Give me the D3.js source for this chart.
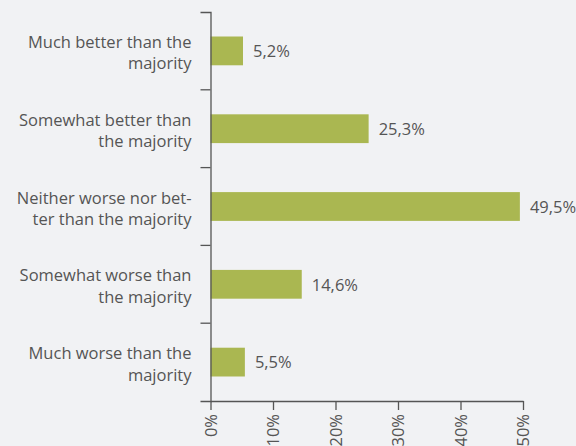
<!DOCTYPE html>
<html>
<head>
<meta charset="utf-8">
<script src="https://cdn.jsdelivr.net/npm/d3@7"></script>
<style>
  body { margin: 0; background: #f1f2f4; }
  svg { display: block; }
  text { font-family: "Open Sans", sans-serif; fill: #555; }
</style>
</head>
<body>
<div id="chart"></div>
<script>
// Données
const categories = [
    ["Much better than the", "majority"],
    ["Somewhat better than", "the majority"],
    ["Neither worse nor bet-", "ter than the majority"],
    ["Somewhat worse than", "the majority"],
    ["Much worse than the", "majority"]
];
const values = [5.2, 25.3, 49.5, 14.6, 5.5];
const valueLabels = ["5,2%", "25,3%", "49,5%", "14,6%", "5,5%"];
const xTicks = [0, 10, 20, 30, 40, 50];
const xTickLabels = ["0%", "10%", "20%", "30%", "40%", "50%"];

const width = 576;
const height = 446;
const margin = { top: 12, right: 53, bottom: 45, left: 210.5 };

const svg = d3.select("#chart")
    .append("svg")
    .attr("width", width)
    .attr("height", height);

svg.append("rect")
    .attr("width", width)
    .attr("height", height)
    .attr("fill", "#f1f2f4");

// Échelles
const idx = d3.range(categories.length);

const x = d3.scaleLinear()
    .domain([0, 50])
    .range([margin.left, width - margin.right]);

const y = d3.scaleBand()
    .domain(idx)
    .range([margin.top, height - margin.bottom])
    .padding(0);

const barH = y.bandwidth() * 0.37;
const fontSize = 16.5;

// Barres
svg.append("g")
    .selectAll("rect")
    .data(idx)
    .join("rect")
    .attr("x", x(0))
    .attr("y", i => y(i) + (y.bandwidth() - barH) / 2)
    .attr("width", i => x(values[i]) - x(0))
    .attr("height", barH)
    .attr("fill", "#aab751");

// Valeurs
svg.append("g")
    .selectAll("text")
    .data(idx)
    .join("text")
    .attr("x", i => x(values[i]) + 10)
    .attr("y", i => y(i) + y.bandwidth() / 2)
    .attr("dy", "0.38em")
    .attr("font-size", fontSize)
    .text(i => valueLabels[i]);

// Axe Y
const yAxis = svg.append("g")
    .attr("transform", `translate(${x(0)},0)`)
    .call(d3.axisLeft(y).tickSize(0).tickSizeOuter(10).tickFormat(""));

yAxis.select(".domain").attr("stroke", "#555").attr("stroke-width", 1.3);

yAxis.selectAll(".boundary")
    .data(idx.slice(1))
    .join("line")
    .attr("class", "boundary")
    .attr("x1", -10)
    .attr("x2", 0)
    .attr("y1", i => y(i))
    .attr("y2", i => y(i))
    .attr("stroke", "#555")
    .attr("stroke-width", 1.3);

// Libellés des catégories
const labels = svg.append("g")
    .selectAll("text")
    .data(idx)
    .join("text")
    .attr("text-anchor", "end")
    .attr("font-size", fontSize)
    .attr("y", i => y(i) + y.bandwidth() / 2);

labels.selectAll("tspan")
    .data(i => categories[i].map((t, k) => ({ t, k })))
    .join("tspan")
    .attr("x", 191.5)
    .attr("dy", d => d.k === 0 ? -3 : 21.5)
    .text(d => d.t);

// Axe X
const xAxis = svg.append("g")
    .attr("transform", `translate(0,${height - margin.bottom})`)
    .call(d3.axisBottom(x)
        .tickValues(xTicks)
        .tickSize(9)
        .tickSizeOuter(0)
        .tickFormat((d, i) => xTickLabels[i]));

xAxis.select(".domain").attr("stroke", "#555").attr("stroke-width", 1.3);
xAxis.selectAll(".tick line").attr("stroke", "#555").attr("stroke-width", 1.3);
xAxis.selectAll(".tick text")
    .attr("transform", "rotate(-90)")
    .attr("x", -13)
    .attr("y", 0)
    .attr("dy", "0.36em")
    .attr("text-anchor", "end")
    .attr("font-size", fontSize)
    .attr("font-family", "'Open Sans', sans-serif")
    .attr("fill", "#555");
</script>
</body>
</html>
